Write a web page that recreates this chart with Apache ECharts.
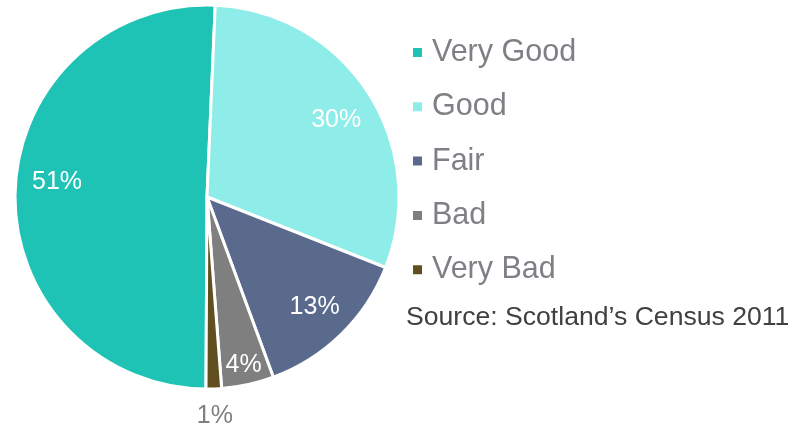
<!DOCTYPE html>
<html>
<head>
<meta charset="utf-8">
<script src="https://cdn.jsdelivr.net/npm/echarts@6/dist/echarts.min.js"></script>
<style>
  html, body { margin: 0; padding: 0; background: #fff; }
  #main { width: 794px; height: 424px; }
</style>
</head>
<body>
<div id="main"></div>
<script>
// general health, Scotland's Census 2011
var categories = ['Very Good', 'Good', 'Fair', 'Bad', 'Very Bad'];
var shares = [50.6, 30.3, 13.4, 4.4, 1.3];
var colors = ['#1fc3b5', '#8eece9', '#5a6a8c', '#7f7f7f', '#624f1f'];
var sourceText = 'Source: Scotland\u2019s Census 2011';

var font = 'Liberation Sans, Arial, sans-serif';
var total = shares.reduce(function (a, b) { return a + b; }, 0);

function pieData() {
  return categories.map(function (c, i) {
    return { name: c, value: shares[i], itemStyle: { color: colors[i] } };
  });
}

// transparent ring used only to place the % labels at a given radius
function labelRing(inner, outer, idx, color, nudge) {
  return {
    type: 'pie',
    center: [207, 197],
    radius: [inner, outer],
    startAngle: 269.7,
    clockwise: true,
    silent: true,
    legendHoverLink: false,
    avoidLabelOverlap: false,
    labelLine: { show: false },
    emphasis: { disabled: true },
    labelLayout: function (p) {
      return nudge && nudge[p.dataIndex] ? nudge[p.dataIndex] : {};
    },
    data: categories.map(function (c, i) {
      return {
        name: c,
        value: shares[i],
        itemStyle: { color: 'rgba(0,0,0,0)', borderWidth: 0 },
        label: {
          show: idx.indexOf(i) >= 0,
          position: 'inside',
          color: color,
          fontSize: 25,
          fontFamily: font,
          formatter: function (p) { return Math.round(p.value / total * 100) + '%'; }
        }
      };
    })
  };
}

var chart = echarts.init(document.getElementById('main'));
chart.setOption({
  backgroundColor: '#ffffff',
  animation: false,
  title: {
    text: sourceText,
    left: 406,
    top: 304,
    padding: 0,
    textStyle: { fontSize: 26.6, fontWeight: 'normal', color: '#404040', fontFamily: font }
  },
  legend: {
    orient: 'vertical',
    left: 411,
    top: 37,
    padding: 0,
    icon: 'rect',
    itemWidth: 11,
    itemHeight: 11,
    itemGap: 23.3,
    data: categories.map(function (c, i) {
      return { name: c, itemStyle: { color: colors[i] } };
    }),
    textStyle: {
      fontSize: 30.5,
      lineHeight: 31,
      color: '#7f7f86',
      fontFamily: font,
      padding: [0, 0, 0, 4]
    }
  },
  series: [
    {
      type: 'pie',
      center: [207, 197],
      radius: [0, 192],
      startAngle: 269.7,
      clockwise: true,
      avoidLabelOverlap: false,
      label: { show: false },
      labelLine: { show: false },
      itemStyle: { borderColor: '#ffffff', borderWidth: 3 },
      emphasis: { disabled: true },
      data: pieData()
    },
    labelRing(112, 190, [0, 1, 2], '#ffffff', { 0: { dx: 4, dy: -11 }, 1: { dy: 7 } }),
    labelRing(148, 190, [3], '#ffffff'),
    labelRing(200, 232, [4], '#7f7f7f')
  ]
});
</script>
</body>
</html>
